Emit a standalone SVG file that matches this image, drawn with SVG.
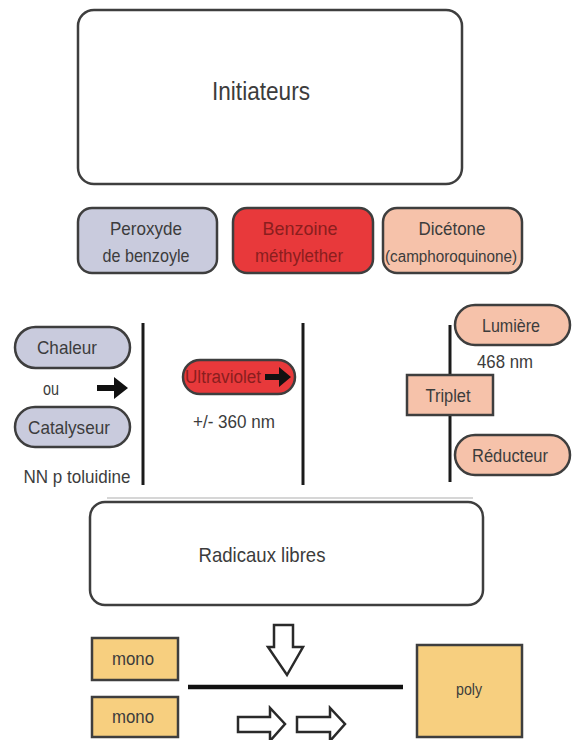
<svg xmlns="http://www.w3.org/2000/svg" width="580" height="740" viewBox="0 0 580 740">
<defs>
<style>
text{font-family:"Liberation Sans",Arial,sans-serif;fill:#3c3c3c;text-anchor:middle}
.box{stroke:#3e3e3e;stroke-width:2.5}
.white{fill:#fff}
.blue{fill:#c9cbdd}
.red{fill:#e8393b}
.peach{fill:#f6c2aa}
.gold{fill:#f7cf7f}
.rt{fill:#8a1e1e}
.vl{stroke:#1a1a1a;stroke-width:3;fill:none}
.hollow{fill:#fff;stroke:#2a2a2a;stroke-width:2.5;stroke-linejoin:miter}
.solid{fill:#111}
</style>
</defs>
<rect width="580" height="740" fill="#fff"/>

<g id="initiateurs">
<rect class="box white" x="78" y="10" width="384" height="174" rx="16"/>
<text x="261" y="100" font-size="26" textLength="98" lengthAdjust="spacingAndGlyphs">Initiateurs</text>
</g>

<g id="peroxyde">
<rect class="box blue" x="78" y="208" width="139" height="65" rx="14"/>
<text x="146" y="235" font-size="19" textLength="72" lengthAdjust="spacingAndGlyphs">Peroxyde</text>
<text x="146" y="262" font-size="19" textLength="87" lengthAdjust="spacingAndGlyphs">de benzoyle</text>
</g>

<g id="benzoine">
<rect class="box red" x="233" y="208" width="140" height="65" rx="14"/>
<text class="rt" x="300" y="235" font-size="19" textLength="75" lengthAdjust="spacingAndGlyphs">Benzoine</text>
<text class="rt" x="299" y="262" font-size="19" textLength="88" lengthAdjust="spacingAndGlyphs">méthylether</text>
</g>

<g id="dicetone">
<rect class="box peach" x="383" y="208" width="139" height="65" rx="14"/>
<text x="452" y="235" font-size="19" textLength="67" lengthAdjust="spacingAndGlyphs">Dicétone</text>
<text x="451" y="262" font-size="16" textLength="132" lengthAdjust="spacingAndGlyphs">(camphoroquinone)</text>
</g>

<g id="chaleur">
<rect class="box blue" x="15" y="327" width="115" height="41" rx="20.5"/>
<text x="67" y="354" font-size="19" textLength="60" lengthAdjust="spacingAndGlyphs">Chaleur</text>
</g>
<text x="51" y="395" font-size="18" textLength="16" lengthAdjust="spacingAndGlyphs">ou</text>
<g id="catalyseur">
<rect class="box blue" x="15" y="407" width="115" height="40" rx="20"/>
<text x="69" y="434" font-size="19" textLength="82" lengthAdjust="spacingAndGlyphs">Catalyseur</text>
</g>
<text x="77" y="483" font-size="19" textLength="107" lengthAdjust="spacingAndGlyphs">NN p toluidine</text>

<g id="ultraviolet">
<rect class="box red" x="183" y="360" width="112" height="34" rx="17"/>
<text class="rt" x="223" y="383" font-size="18" textLength="76" lengthAdjust="spacingAndGlyphs">Ultraviolet</text>
<path class="solid" d="M265 374 H279 V367 L291 377 L279 387 V380 H265 Z"/>
</g>
<text x="234" y="428" font-size="19" textLength="82" lengthAdjust="spacingAndGlyphs">+/- 360 nm</text>

<g id="lumiere">
<rect class="box peach" x="455" y="305" width="115" height="40" rx="20"/>
<text x="511" y="332" font-size="18.5" textLength="58" lengthAdjust="spacingAndGlyphs">Lumière</text>
</g>
<text x="505" y="368" font-size="18.5" textLength="56" lengthAdjust="spacingAndGlyphs">468 nm</text>

<g id="reducteur">
<rect class="box peach" x="455" y="435" width="115" height="40" rx="20"/>
<text x="510" y="462" font-size="18.5" textLength="76" lengthAdjust="spacingAndGlyphs">Réducteur</text>
</g>

<g id="connectors">
<line class="vl" x1="143" y1="323" x2="143" y2="485"/>
<line class="vl" x1="303" y1="323" x2="303" y2="485"/>
<line class="vl" x1="450" y1="325" x2="450" y2="482"/>
<path class="solid" d="M97 385 H114 V377 L128 388 L114 399 V391 H97 Z"/>
<line x1="107" y1="498" x2="473" y2="498" stroke="#c8c8c8" stroke-width="1.5"/>
<path class="hollow" d="M274 625 H293 V647 H303 L287 675 L268 647 H274 Z"/>
<line x1="188" y1="687" x2="403" y2="687" stroke="#111" stroke-width="4.5"/>
<path class="hollow" d="M238 717 H270 V708 L285 724 L270 741 V732 H238 Z"/>
<path class="hollow" d="M297 717 H330 V708 L345 724 L330 741 V732 H297 Z"/>
</g>

<g id="triplet">
<rect class="box peach" x="407" y="375" width="86" height="40"/>
<text x="448" y="402" font-size="18" textLength="45" lengthAdjust="spacingAndGlyphs">Triplet</text>
</g>

<g id="radicaux">
<rect class="box white" x="90" y="502" width="393" height="103" rx="15"/>
<text x="262" y="562" font-size="21" textLength="127" lengthAdjust="spacingAndGlyphs">Radicaux libres</text>
</g>

<g id="mono1">
<rect class="box gold" x="92" y="638" width="86" height="42"/>
<text x="133" y="665" font-size="19" textLength="42" lengthAdjust="spacingAndGlyphs">mono</text>
</g>
<g id="mono2">
<rect class="box gold" x="92" y="697" width="86" height="40"/>
<text x="133" y="723" font-size="19" textLength="42" lengthAdjust="spacingAndGlyphs">mono</text>
</g>
<g id="poly">
<rect class="box gold" x="417" y="645" width="105" height="92"/>
<text x="469" y="695" font-size="17" textLength="26" lengthAdjust="spacingAndGlyphs">poly</text>
</g>
</svg>
